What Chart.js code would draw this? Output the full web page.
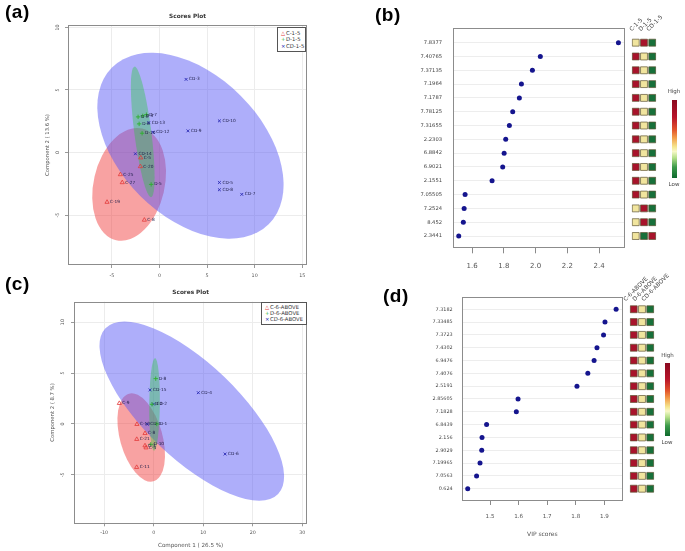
<!DOCTYPE html>
<html><head><meta charset="utf-8">
<script src="https://cdn.jsdelivr.net/npm/chart.js@4"></script>
<style>
body{margin:0;background:#fff;width:685px;height:551px;overflow:hidden;position:relative;font-family:"DejaVu Sans",sans-serif;}
canvas{position:absolute;}
.t{position:absolute;white-space:nowrap;line-height:1;transform:translate(-50%,-50%);color:#444;}
.pl{position:absolute;font-family:"Liberation Sans",Arial,sans-serif;font-weight:bold;font-size:19px;line-height:1;color:#000;letter-spacing:0.5px;}
.hdr{position:absolute;white-space:nowrap;font-size:5.8px;line-height:1;height:5.8px;color:#444;transform-origin:0 100%;transform:rotate(-45deg);}
.leg{position:absolute;box-sizing:border-box;border:1px solid #555;background:#fff;font-size:5.3px;color:#333;padding:1px 0 0 3px;}
.leg div{height:6.3px;line-height:6.3px;white-space:nowrap;}
.leg span{display:inline-block;width:5px;}
</style></head><body>
<canvas id="ca" width="340" height="290" style="left:0;top:0"></canvas>
<canvas id="cb" width="290" height="290" style="left:340px;top:0"></canvas>
<canvas id="hb" width="36" height="290" style="left:626px;top:0"></canvas>
<canvas id="gb" width="5" height="78" style="left:672px;top:100px"></canvas>
<canvas id="cc" width="340" height="271" style="left:0;top:280px"></canvas>
<canvas id="cd" width="290" height="271" style="left:340px;top:280px"></canvas>
<canvas id="hd" width="36" height="271" style="left:624px;top:280px"></canvas>
<canvas id="gd" width="5" height="73" style="left:665px;top:363px"></canvas>
<div id="txt"></div>
<script>
// ===================== DATA =====================
// Panel (a) scores
const A_C_x = [-1.96, -2.0, -4.1, -3.9, -5.5, -1.58];
const A_C_y = [-0.42, -1.12, -1.76, -2.4, -3.97, -5.4];
const A_C_lab = ['C-5', 'C-20', 'C-25', 'C-27', 'C-19', 'C-8'];
const A_D_x = [-2.24, -1.75, -1.37, -2.13, -1.82, -0.87];
const A_D_y = [2.85, 2.93, 3.03, 2.29, 1.54, -2.55];
const A_D_lab = ['D-2', 'D-3', 'D-7', 'D-8', 'D-10', 'D-5'];
const A_CD_x = [2.8, 6.3, 3.0, -1.12, -0.66, -2.52, 6.3, 6.3, 8.65];
const A_CD_y = [5.85, 2.53, 1.73, 2.39, 1.62, -0.1, -2.4, -2.98, -3.35];
const A_CD_lab = ['CD-3', 'CD-10', 'CD-9', 'CD-13', 'CD-12', 'CD-14', 'CD-5', 'CD-8', 'CD-7'];
const A_groups = ['C-1-5', 'D-1-5', 'CD-1-5'];
const A_xticks = [-5, 0, 5, 10, 15];
const A_yticks = [-5, 0, 5, 10];
// confidence ellipses: centre, two conjugate semi-axes (data units)
const A_ellC = [[-3.18, -2.55], [1.36, 4.47], [3.63, -0.64]];
const A_ellCD = [[3.26, 0.54], [8.24, -6.26], [5.27, 4.01]];
const A_ellD = [[-1.75, 1.65], [0.877, -5.22], [0.886, 0.086]];

// Panel (c) scores
const C_C_x = [-6.95, -3.4, -1.76, -3.43, -1.76, -1.56, -3.45];
const C_C_y = [2.03, -0.03, -0.92, -1.5, -2.13, -2.33, -4.25];
const C_C_lab = ['C-9', 'C-10', 'C-8', 'C-21', 'C-3', 'C-4', 'C-11'];
const C_D_x = [0.4, -0.35, 0.6, -0.6];
const C_D_y = [4.45, 1.93, 0.0, -2.0];
const C_D_lab = ['D-8', 'D-2', 'D-1', 'D-10'];
const C_CD_x = [-0.75, 9.0, 14.4, -0.05, -1.3];
const C_CD_y = [3.34, 3.07, -2.95, 1.95, -0.03];
const C_CD_lab = ['CD-15', 'CD-4', 'CD-6', 'CD-2', 'CD-1'];
const C_groups = ['C-6-ABOVE', 'D-6-ABOVE', 'CD-6-ABOVE'];
const C_xticks = [-10, 0, 10, 20, 30];
const C_yticks = [-5, 0, 5, 10];
const C_ellC = [[-2.53, -1.33], [-2.47, 4.30], [4.12, 0.56]];
const C_ellCD = [[7.68, 1.26], [17.43, -8.13], [6.59, 3.34]];
const C_ellD = [[0.16, 1.92], [0.1, 4.55], [1.07, 0]];

// Panel (b) VIP
const B_features = ['7.8377', '7.40765', '7.37135', '7.1964', '7.1787', '7.78125', '7.31655', '2.2303', '6.8842', '6.9021', '2.1551', '7.05505', '7.2524', '8.452', '2.3441'];
const B_vip = [2.522, 2.030, 1.980, 1.911, 1.898, 1.856, 1.835, 1.812, 1.802, 1.793, 1.726, 1.556, 1.550, 1.545, 1.516];
const B_groups = ['C-1-5', 'D-1-5', 'CD-1-5'];
const B_xticks = [1.6, 1.8, 2.0, 2.2, 2.4];
// heat levels: 1 = high, 0 = middle, -1 = low
const B_heat_C = [0, 1, 1, 1, 1, 1, 1, 1, 1, 1, 1, 1, 0, 0, 0];
const B_heat_D = [1, 0, 0, 0, 0, 0, 0, 0, 0, 0, 0, 0, 1, 1, -1];
const B_heat_CD = [-1, -1, -1, -1, -1, -1, -1, -1, -1, -1, -1, -1, -1, -1, 1];

// Panel (d) VIP
const D_features = ['7.3182', '7.33485', '7.3723', '7.4302', '6.9476', '7.4076', '2.5191', '2.85605', '7.1828', '6.8439', '2.156', '2.9029', '7.19965', '7.0563', '0.624'];
const D_vip = [1.941, 1.902, 1.897, 1.874, 1.864, 1.842, 1.804, 1.598, 1.592, 1.488, 1.472, 1.471, 1.465, 1.453, 1.422];
const D_xticks = [1.5, 1.6, 1.7, 1.8, 1.9];
const D_heat_C = [1, 1, 1, 1, 1, 1, 1, 1, 1, 1, 1, 1, 1, 1, 1];
const D_heat_D = [0, 0, 0, 0, 0, 0, 0, 0, 0, 0, 0, 0, 0, 0, 0];
const D_heat_CD = [-1, -1, -1, -1, -1, -1, -1, -1, -1, -1, -1, -1, -1, -1, -1];

// ===================== STYLE =====================
const HEAT_COLORS = {'1': '#a8132b', '0': '#f1e59e', '-1': '#17703a'};
const CBAR_STOPS = [[0, '#8a0a20'], [0.22, '#b8142a'], [0.38, '#e2542c'], [0.48, '#f29a48'], [0.6, '#f5e68e'], [0.66, '#f7f8c8'], [0.74, '#b6e08a'], [0.86, '#3c9a4a'], [1, '#0e6a2e']];
const ELL_COLORS = {C: 'rgba(240,60,60,0.48)', CD: 'rgba(85,85,245,0.48)', D: 'rgba(40,200,60,0.38)'};

Chart.defaults.font.family = "'DejaVu Sans', sans-serif";

const framePlugin = {
  id: 'frame',
  afterDraw(chart) {
    const {left, top, right, bottom} = chart.chartArea, c = chart.ctx;
    c.save(); c.strokeStyle = '#8c8c8c'; c.lineWidth = 1;
    c.strokeRect(Math.round(left) + 0.5, Math.round(top) + 0.5, Math.round(right - left) - 1, Math.round(bottom - top) - 1);
    c.restore();
  }
};
function ellipsePlugin(items) {
  return {
    id: 'ellipses',
    beforeDatasetsDraw(chart) {
      const xs = chart.scales.x, ys = chart.scales.y, c = chart.ctx, ca = chart.chartArea;
      c.save(); c.beginPath(); c.rect(ca.left, ca.top, ca.right - ca.left, ca.bottom - ca.top); c.clip();
      items.forEach(([e, col]) => {
        const [cc, u, v] = e;
        const px = xs.getPixelForValue(cc[0]), py = ys.getPixelForValue(cc[1]);
        const ux = xs.getPixelForValue(cc[0] + u[0]) - px, uy = ys.getPixelForValue(cc[1] + u[1]) - py;
        const vx = xs.getPixelForValue(cc[0] + v[0]) - px, vy = ys.getPixelForValue(cc[1] + v[1]) - py;
        c.save(); c.transform(ux, uy, vx, vy, px, py); c.beginPath(); c.arc(0, 0, 1, 0, Math.PI * 2); c.restore();
        c.fillStyle = col; c.fill();
      });
      c.restore();
    }
  };
}
const labelPlugin = {
  id: 'ptLabels',
  afterDatasetsDraw(chart) {
    const c = chart.ctx; c.save(); c.font = "4.3px 'DejaVu Sans'"; c.fillStyle = '#1e1e48';
    c.textBaseline = 'middle'; c.textAlign = 'left';
    chart.data.datasets.forEach((ds, i) => {
      if (!ds.ptLabels) return;
      chart.getDatasetMeta(i).data.forEach((el, j) => c.fillText(ds.ptLabels[j], el.x + 3, el.y));
    });
    c.restore();
  }
};
function pts(xs, ys) { return xs.map((v, i) => ({x: v, y: ys[i]})); }

function scoresChart(id, P) {
  return new Chart(document.getElementById(id), {
    type: 'scatter',
    data: {datasets: [
      {data: pts(P.C[0], P.C[1]), ptLabels: P.C[2], pointStyle: 'triangle', pointRadius: 2.4, borderColor: '#e23a3a', backgroundColor: 'rgba(0,0,0,0)', borderWidth: 0.8},
      {data: pts(P.D[0], P.D[1]), ptLabels: P.D[2], pointStyle: 'cross', pointRadius: 2.2, borderColor: '#2fb02f', backgroundColor: '#2fb02f', borderWidth: 0.9},
      {data: pts(P.CD[0], P.CD[1]), ptLabels: P.CD[2], pointStyle: 'crossRot', pointRadius: 2.0, borderColor: '#2a2ab4', backgroundColor: '#2a2ab4', borderWidth: 0.9}
    ]},
    options: {
      responsive: false, animation: false,
      layout: {padding: P.pad},
      plugins: {legend: {display: false}, tooltip: {enabled: false}},
      scales: {
        x: {type: 'linear', min: P.xr[0], max: P.xr[1],
          afterBuildTicks: s => { s.ticks = P.xticks.map(v => ({value: v})); },
          afterFit: s => { s.height = P.xh; },
          border: {display: false},
          grid: {color: '#ececec', tickColor: '#9a9a9a', tickLength: 3},
          ticks: {font: {size: 4.8}, color: '#555', padding: P.xtp},
          title: P.xtitle ? {display: true, text: P.xtitle, font: {size: 5.6}, color: '#555', padding: {top: 0, bottom: P.xtitlePad}} : {display: false}
        },
        y: {type: 'linear', min: P.yr[0], max: P.yr[1],
          afterBuildTicks: s => { s.ticks = P.yticks.map(v => ({value: v})); },
          afterFit: s => { s.width = P.yw; },
          border: {display: false},
          grid: {color: '#ececec', tickColor: '#9a9a9a', tickLength: 3},
          ticks: {font: {size: 4.8}, color: '#555', padding: P.ytp, minRotation: 90, maxRotation: 90, crossAlign: 'center'},
          title: {display: true, text: P.ytitle, font: {size: 5.3}, color: '#555', padding: {top: P.ytitlePad, bottom: 0}}
        }
      }
    },
    plugins: [ellipsePlugin([[P.ell[0], ELL_COLORS.C], [P.ell[1], ELL_COLORS.CD], [P.ell[2], ELL_COLORS.D]]), labelPlugin, framePlugin]
  });
}

function vipChart(id, feats, vals, P) {
  return new Chart(document.getElementById(id), {
    type: 'scatter',
    data: {datasets: [{data: vals.map((v, i) => ({x: v, y: i})), pointStyle: 'circle', pointRadius: 2.5, backgroundColor: '#15158e', borderWidth: 0}]},
    options: {
      responsive: false, animation: false,
      layout: {padding: P.pad},
      plugins: {legend: {display: false}, tooltip: {enabled: false}},
      scales: {
        x: {type: 'linear', min: P.xr[0], max: P.xr[1],
          afterBuildTicks: s => { s.ticks = P.xticks.map(v => ({value: v})); },
          afterFit: s => { s.height = P.xh; },
          border: {display: false},
          grid: {drawOnChartArea: false, drawTicks: true, tickLength: P.tl, tickColor: '#8a8a8a'},
          ticks: {font: {size: P.xfs}, color: '#555', padding: P.xtp, callback: v => Number(v).toFixed(1)},
          title: P.xtitle ? {display: true, text: P.xtitle, font: {size: 6}, color: '#555', padding: {top: 0, bottom: P.xtitlePad}} : {display: false}
        },
        y: {type: 'linear', reverse: true, min: P.yr[0], max: P.yr[1],
          afterBuildTicks: s => { s.ticks = feats.map((f, i) => ({value: i})); },
          afterFit: s => { s.width = P.yw; },
          border: {display: false},
          grid: {color: '#ededed', drawTicks: false},
          ticks: {font: {size: P.yfs}, color: '#444', padding: P.ytp, callback: v => feats[v]}
        }
      }
    },
    plugins: [framePlugin]
  });
}

function heatChart(id, cols, pad, yr) {
  const data = [], colors = [];
  cols.forEach((col, ci) => col.forEach((lev, ri) => { data.push({x: ci, y: ri}); colors.push(HEAT_COLORS[String(lev)]); }));
  return new Chart(document.getElementById(id), {
    type: 'scatter',
    data: {datasets: [{data, pointStyle: 'rect', pointRadius: 4.9, backgroundColor: colors, borderColor: '#5e5434', borderWidth: 0.7}]},
    options: {
      responsive: false, animation: false, layout: {padding: pad},
      plugins: {legend: {display: false}, tooltip: {enabled: false}},
      scales: {x: {type: 'linear', display: false, min: -0.5, max: 2.5}, y: {type: 'linear', display: false, reverse: true, min: yr[0], max: yr[1]}}
    }
  });
}

function colorbar(id) {
  return new Chart(document.getElementById(id), {
    type: 'bar',
    data: {labels: [''], datasets: [{data: [[0, 1]], borderWidth: 0, barPercentage: 1, categoryPercentage: 1,
      backgroundColor: ctx => {
        const ca = ctx.chart.chartArea; if (!ca) return '#f5e68e';
        const g = ctx.chart.ctx.createLinearGradient(0, ca.top, 0, ca.bottom);
        CBAR_STOPS.forEach(([p, c]) => g.addColorStop(p, c));
        return g;
      }}]},
    options: {responsive: false, animation: false, layout: {padding: 0},
      plugins: {legend: {display: false}, tooltip: {enabled: false}},
      scales: {x: {display: false}, y: {display: false, min: 0, max: 1}}}
  });
}

// ===================== CHARTS =====================
scoresChart('ca', {
  C: [A_C_x, A_C_y, A_C_lab], D: [A_D_x, A_D_y, A_D_lab], CD: [A_CD_x, A_CD_y, A_CD_lab],
  ell: [A_ellC, A_ellCD, A_ellD],
  pad: {left: 40, top: 25, right: 33, bottom: 10}, xh: 15, yw: 28,
  xr: [-9.6, 15.5], yr: [-9.0, 10.2], xticks: A_xticks, yticks: A_yticks,
  xtp: 4.7, ytp: 4.2, ytitle: 'Component 2 ( 13.6 %)', ytitlePad: 4.7
});
scoresChart('cc', {
  C: [C_C_x, C_C_y, C_C_lab], D: [C_D_x, C_D_y, C_D_lab], CD: [C_CD_x, C_CD_y, C_CD_lab],
  ell: [C_ellC, C_ellCD, C_ellD],
  pad: {left: 45, top: 21.7, right: 32.7, bottom: 1.7}, xh: 26, yw: 29,
  xr: [-16.1, 31.0], yr: [-9.75, 12.0], xticks: C_xticks, yticks: C_yticks,
  xtp: 3.7, ytp: 5.2, xtitle: 'Component 1 ( 26.5 %)', xtitlePad: 0.6, ytitle: 'Component 2 ( 8.7 %)', ytitlePad: 4.4
});
vipChart('cb', B_features, B_vip, {
  pad: {left: 40, top: 28.3, right: 5.7, bottom: 11.7}, xh: 30, yw: 72.7,
  xr: [1.478, 2.559], yr: [-1.04, 14.89], xticks: B_xticks, tl: 5, xfs: 7, xtp: 8.2, yfs: 5.2, ytp: 10.7
});
vipChart('cd', D_features, D_vip, {
  pad: {left: 40, top: 16.7, right: 7.3, bottom: 10}, xh: 40, yw: 82,
  xr: [1.402, 1.964], yr: [-0.98, 14.96], xticks: D_xticks, tl: 4, xfs: 5.6, xtp: 8.3, yfs: 4.9, ytp: 9.3,
  xtitle: 'VIP scores', xtitlePad: 3.4
});
heatChart('hb', [B_heat_C, B_heat_D, B_heat_CD], {left: 5.3, right: 4.3, top: 28.3, bottom: 41.7}, [-1.04, 14.89]);
heatChart('hd', [D_heat_C, D_heat_D, D_heat_CD], {left: 4.3, right: 5.3, top: 16.7, bottom: 50}, [-0.98, 14.96]);
colorbar('gb');
colorbar('gd');

// ===================== TEXT =====================
const T = document.getElementById('txt');
function add(html, cls, style) { const d = document.createElement('div'); d.className = cls; d.innerHTML = html; d.style.cssText = style; T.appendChild(d); return d; }
add('(a)', 'pl', 'left:5px;top:2px');
add('(b)', 'pl', 'left:375px;top:4.5px');
add('(c)', 'pl', 'left:5px;top:274px');
add('(d)', 'pl', 'left:383px;top:286px');
add('Scores Plot', 't', 'left:187.5px;top:17px;font-size:5.8px;font-weight:bold;color:#333');
add('Scores Plot', 't', 'left:190.7px;top:293.3px;font-size:5.8px;font-weight:bold;color:#333');
function legend(groups, style) {
  const marks = ['<span style="color:#e23a3a">\u25B3</span>', '<span style="color:#2fb02f">+</span>', '<span style="color:#2a2ab4">\u00D7</span>'];
  add(groups.map((g, i) => '<div>' + marks[i] + g + '</div>').join(''), 'leg', style);
}
legend(A_groups, 'left:277px;top:27px;width:29px;height:25px;padding-top:2px');
legend(C_groups, 'left:261px;top:301.7px;width:46px;height:23.6px');
B_groups.forEach((g, i) => add(g, 'hdr', 'left:' + (632.7 + i * 8.8) + 'px;top:' + (32.3 - 5.8) + 'px'));
C_groups.forEach((g, i) => add(g, 'hdr', 'left:' + (627.3 + i * 8.7) + 'px;top:' + (302.3 - 5.8) + 'px'));
add('High', 't', 'left:674px;top:91.7px;font-size:5.5px');
add('Low', 't', 'left:674px;top:185px;font-size:5.5px');
add('High', 't', 'left:667.5px;top:356px;font-size:5.5px');
add('Low', 't', 'left:667px;top:442.7px;font-size:5.5px');
</script>
</body></html>
